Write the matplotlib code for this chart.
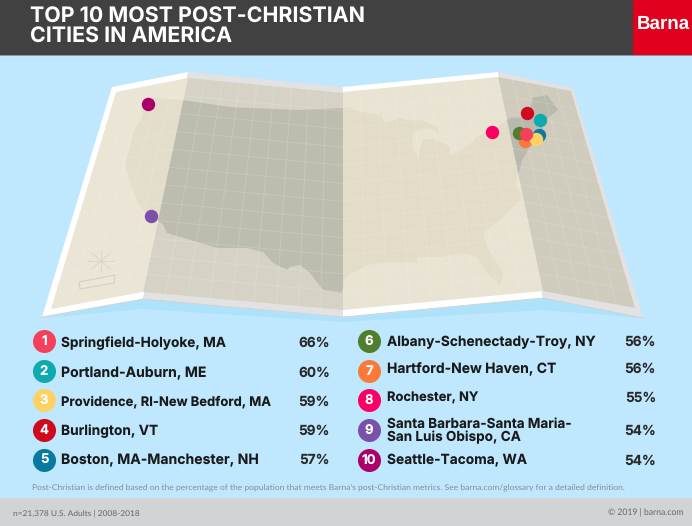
import matplotlib
matplotlib.use('Agg')

import matplotlib.pyplot as plt
from matplotlib.patches import Polygon, Rectangle
import numpy as np

plt.rcParams['text.hinting'] = 'no_hinting'

title_lines = ["TOP 10 MOST POST-CHRISTIAN", "CITIES IN AMERICA"]
footnote = ("Post-Christian is defined based on the percentage of the population that meets "
            "Barna's post-Christian metrics. See barna.com/glossary for a detailed definition.")
sample_note = "n=21,378 U.S. Adults | 2008-2018"
copyright_note = "© 2019 | barna.com"

ranks = ["1", "2", "3", "4", "5", "6", "7", "8", "9", "10"]
cities = ["Springfield-Holyoke, MA", "Portland-Auburn, ME", "Providence, RI-New Bedford, MA",
          "Burlington, VT", "Boston, MA-Manchester, NH", "Albany-Schenectady-Troy, NY",
          "Hartford-New Haven, CT", "Rochester, NY",
          "Santa Barbara-Santa Maria-\nSan Luis Obispo, CA", "Seattle-Tacoma, WA"]
shares = [66, 60, 59, 59, 57, 56, 56, 55, 54, 54]
city_colors = ["#f5405c", "#0fa9b0", "#fdd263", "#cf0a1e", "#08799f",
               "#4f7f2c", "#fb7a3a", "#fb0062", "#7a50ab", "#ab0068"]
# where each dot sits on the map picture
map_x = [526, 540, 536, 527, 539, 519, 525, 492, 151, 148]
map_y = [134, 120, 139, 113, 135, 133, 141, 132, 216, 104]

# map panels, outer sheet corners: top-left, top-right, bottom-right, bottom-left
panel_outer = [[(112, 87), (188, 72), (143, 299), (42, 317)],
               [(188, 72), (343, 87), (343, 317), (143, 299)],
               [(343, 87), (498, 72), (543, 298), (343, 317)],
               [(498, 72), (573, 88), (643, 318), (543, 298)]]
panel_inner = [[(116, 92), (188, 78), (143, 292), (51, 309)],
               [(188, 78), (343, 93), (343, 310), (143, 292)],
               [(343, 92), (498, 77), (543, 291), (343, 310)],
               [(498, 77), (571, 91), (635, 308), (543, 291)]]
panel_border = ["#ffffff", "#e2e2e2", "#ffffff", "#e2e2e2"]
panel_paper = ["#ebe5d6", "#d6d3c6", "#e9e3d3", "#cfcbbd"]
panel_land = ["#e3ddcb", "#bdbdaf", "#e3dcc8", "#b9baad"]

us_outline = [(145, 97), (183, 100), (230, 107), (297, 110), (343, 108), (350, 107), (360, 112),
              (380, 115), (385, 123), (400, 118), (407, 120), (423, 120), (437, 127), (440, 133),
              (427, 128), (413, 132), (412, 147), (418, 158), (423, 140), (433, 138), (450, 147),
              (450, 155), (462, 150), (472, 142), (480, 135), (497, 127), (510, 118), (530, 117),
              (532, 98), (547, 95), (558, 110), (543, 122), (543, 135), (530, 147), (522, 160),
              (520, 168), (515, 183), (522, 197), (503, 217), (483, 233), (487, 247), (503, 273),
              (500, 285), (487, 273), (477, 257), (463, 253), (440, 257), (417, 257), (417, 263),
              (407, 262), (390, 262), (367, 265), (345, 277), (342, 293), (323, 290), (310, 273),
              (300, 265), (290, 267), (287, 270), (273, 263), (263, 252), (247, 248), (217, 248),
              (190, 240), (167, 233), (163, 225), (157, 220), (140, 207), (130, 183), (125, 163),
              (130, 147), (133, 133), (142, 117)]


def panel_point(corners, u, v):
    tl, tr, br, bl = [np.array(c, dtype=float) for c in corners]
    return (1 - v) * ((1 - u) * tl + u * tr) + v * ((1 - u) * bl + u * br)


fig = plt.figure(figsize=(6.92, 5.26), dpi=100)
ax = fig.add_axes([0, 0, 1, 1])
ax.set_xlim(0, 692)
ax.set_ylim(526, 0)
ax.axis('off')
ax.add_patch(Rectangle((0, 0), 692, 526, color="#bfe8fe", zorder=0))

# shadow under the sheet
ax.add_patch(Polygon([(43, 318), (143, 299), (343, 318), (543, 298), (643, 318), (543, 310), (343, 322), (143, 309)],
                     color="#aee2fa", lw=0, zorder=1))

for i in range(4):
    ax.add_patch(Polygon(panel_outer[i], color=panel_border[i], lw=0, zorder=2))
    ax.plot([panel_outer[i][3][0], panel_outer[i][2][0]], [panel_outer[i][3][1], panel_outer[i][2][1]],
            color="#d0d0d0", lw=0.6, zorder=2.5)
    paper = Polygon(panel_inner[i], color=panel_paper[i], lw=0, zorder=3)
    ax.add_patch(paper)
    land = Polygon(us_outline, color=panel_land[i], lw=0, zorder=4)
    ax.add_patch(land)
    land.set_clip_path(paper)
    # faint map grid
    for u in np.linspace(0, 1, 6 if i in (0, 3) else 10)[1:-1]:
        a, b = panel_point(panel_inner[i], u, 0), panel_point(panel_inner[i], u, 1)
        ax.plot([a[0], b[0]], [a[1], b[1]], color="white", lw=0.6, alpha=0.16, zorder=5)
    for v in np.linspace(0, 1, 13)[1:-1]:
        a, b = panel_point(panel_inner[i], 0, v), panel_point(panel_inner[i], 1, v)
        ax.plot([a[0], b[0]], [a[1], b[1]], color="white", lw=0.6, alpha=0.16, zorder=5)

# compass and scale box on the left panel
for ang in np.arange(0, 180, 45):
    dx, dy = 13 * np.cos(np.radians(ang)), 11 * np.sin(np.radians(ang))
    ax.plot([101 - dx, 101 + dx], [261 - dy, 261 + dy], color="#dcd6c6", lw=0.7, zorder=5)
ax.add_patch(Polygon([(79, 282), (115, 275), (114, 283), (80, 289)], fill=False, ec="#d6d0c0", lw=0.8, zorder=5))

# dots, lowest rank first so number 1 ends up on top
for i in range(len(cities) - 1, -1, -1):
    ax.scatter(map_x[i], map_y[i], s=93, color=city_colors[i], lw=0, zorder=6 + (9 - i) * 0.01)

# header
ax.add_patch(Rectangle((0, 0), 692, 55, color="#414141", lw=0, zorder=7))
ax.add_patch(Rectangle((0, 55), 692, 1, color="#8c9499", lw=0, zorder=7))
ax.add_patch(Rectangle((633, 0), 59, 55, color="#e2001f", lw=0, zorder=8))
ax.text(30, 17, title_lines[0], color="white", fontsize=15.4, family="Inter", weight="bold",
        va="center", ha="left", zorder=9)
ax.text(30, 37, title_lines[1], color="white", fontsize=15.4, family="Inter", weight="bold",
        va="center", ha="left", zorder=9)
ax.text(663, 24, "Barna", color="white", fontsize=13.5, family="Liberation Sans", weight="bold",
        va="center", ha="center", zorder=9)

# city list
row_y = [341, 371, 400, 430, 460]
name_y = [343, 373, 402, 431, 460, 342, 369, 398, 431, 461]
name_size = [9.8, 10.1, 9.35, 9.9, 10.1, 9.9, 10, 9.3, 9.75, 9.9]
for i in range(len(cities)):
    col = 0 if i < 5 else 1
    cx = 44 if col == 0 else 369
    tx = 61 if col == 0 else 387
    px = 330 if col == 0 else 656
    y = row_y[i % 5]
    ax.scatter(cx, y, s=275, color=city_colors[i], lw=0, zorder=6)
    ax.text(cx, y + 0.5, ranks[i], color="white", fontsize=9.5, family="Inter", weight="bold",
            va="center", ha="center", zorder=7)
    ax.text(tx, name_y[i], cities[i], color="#1a1a1a", fontsize=name_size[i], family="Inter", weight="bold",
            va="center", ha="left", linespacing=0.95, zorder=7)
    ax.text(px, name_y[i], f"{shares[i]}%", color="#2a2a2a", fontsize=9.8, family="Inter", weight="bold",
            va="center", ha="right", zorder=7)

# notes and footer
ax.text(32, 488, footnote, color="#7f8f9a", fontsize=6.1, family="Lato", va="center", ha="left", zorder=7)
ax.add_patch(Rectangle((0, 498), 692, 28, color="#d2d3d5", lw=0, zorder=6))
ax.text(13, 513, sample_note, color="#666666", fontsize=6.0, family="Lato", va="center", ha="left", zorder=7)
ax.text(683, 513, copyright_note, color="#666666", fontsize=6.2, family="Lato", va="center", ha="right", zorder=7)

fig.savefig("out.png", dpi=100)
